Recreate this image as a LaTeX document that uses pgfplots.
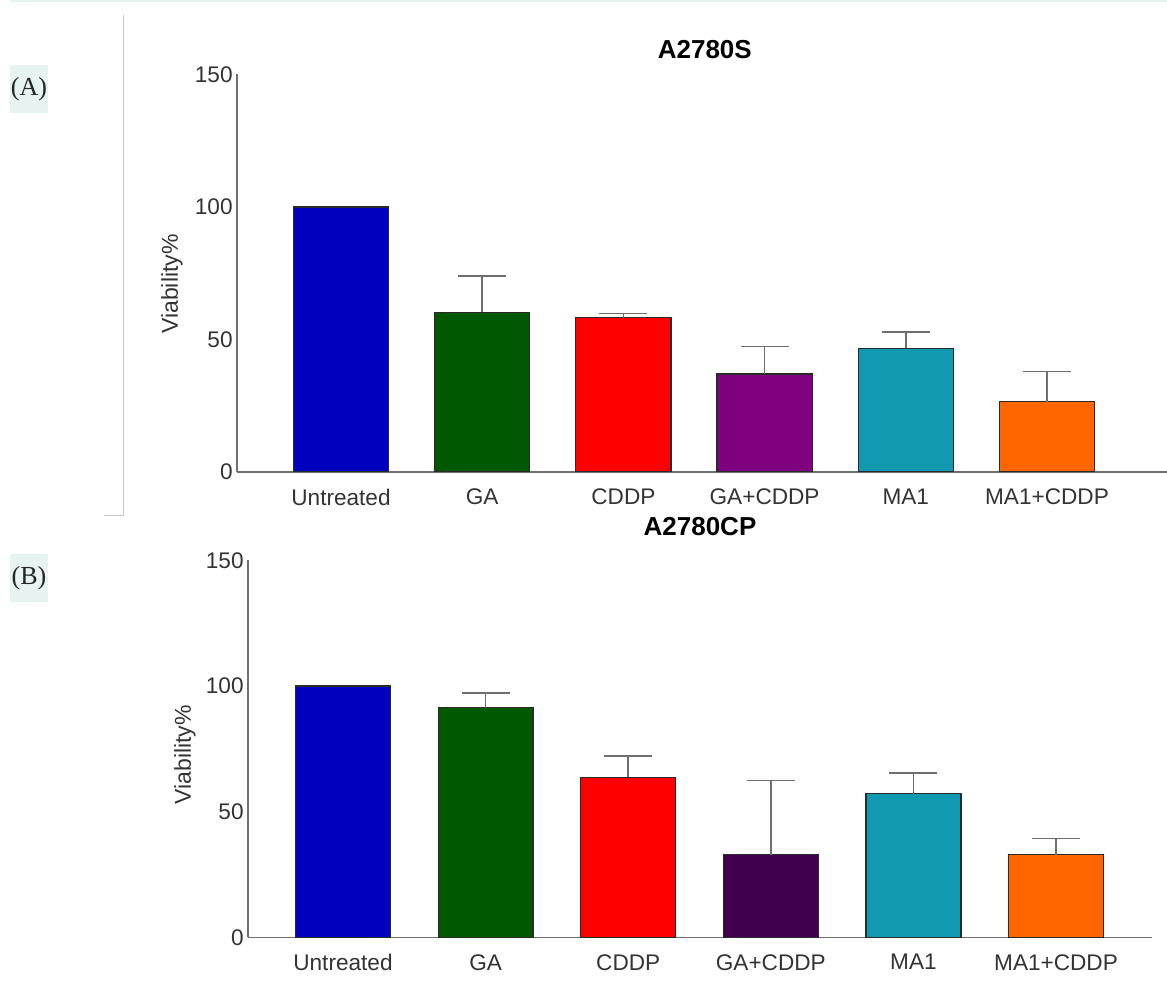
\documentclass[border=0pt]{standalone}
\usepackage{pgfplots}
\pgfplotsset{compat=1.18}
\usepackage{fontspec}
\setmainfont{Liberation Sans}
\newfontfamily\seriffont{Liberation Serif}
\definecolor{axgray}{HTML}{707070}
\definecolor{errgray}{HTML}{6E6E6E}
\definecolor{labgray}{HTML}{333333}
\definecolor{bardraw}{HTML}{2A2A2A}
\definecolor{cU}{HTML}{0000BE}
\definecolor{cGA}{HTML}{005800}
\definecolor{cCD}{HTML}{FF0000}
\definecolor{cGAC}{HTML}{7F007F}
\definecolor{cGACb}{HTML}{40004D}
\definecolor{cMA}{HTML}{1299B2}
\definecolor{cMAC}{HTML}{FF6600}
\definecolor{bandcol}{HTML}{E6F3F1}
\definecolor{boxcol}{HTML}{E6F3F1}
\definecolor{linecol}{HTML}{C8C8C8}
\pgfplotsset{
  via/.style={
    scale only axis,
    ybar,
    axis x line=bottom, axis y line=left,
    axis line style={-, draw=axgray, line width=0.75pt},
    major tick length=0pt,
    ymin=0, ymax=150, ytick={0,50,100,150},
    xtick={0,1,2,3,4,5},
    xticklabels={Untreated,GA,CDDP,GA+CDDP,MA1,MA1+CDDP},
    /pgf/number format/assume math mode=true,
    ticklabel style={font=\fontsize{11.3}{13}\selectfont, text=labgray},
    yticklabel style={inner xsep=2pt},
    xticklabel style={yshift=-5pt},
    ylabel={Viability\%},
    title style={font=\bfseries\fontsize{13}{15}\selectfont},
    every axis plot/.append style={draw=bardraw, line width=0.6pt},
    error bars/y dir=plus, error bars/y explicit,
    error bars/error bar style={draw=errgray, line width=0.75pt},
    error bars/error mark options={rotate=90, draw=errgray, line width=0.75pt, mark size=12pt},
  }
}
\begin{document}
\begin{tikzpicture}
\useasboundingbox (0,0) rectangle (583.5pt,497pt);
\fill[bandcol] (5pt,496.1pt) rectangle (583.5pt,497pt);
\draw[linecol, line width=0.5pt] (61.5pt,489.5pt) -- (61.5pt,239pt) -- (52pt,239pt);
\node[fill=boxcol, minimum width=19pt, minimum height=24pt, inner sep=0pt,
      font=\seriffont\fontsize{13}{15}\selectfont, text=black!85] at (14.5pt,452.5pt) {(A)};
\node[fill=boxcol, minimum width=19pt, minimum height=24pt, inner sep=0pt,
      font=\seriffont\fontsize{13}{15}\selectfont, text=black!85] at (14.5pt,208pt) {(B)};

\begin{axis}[via,
  at={(118.5pt,261pt)}, anchor=south west,
  width=465pt, height=198.75pt,
  xmin=-0.7365, xmax=5.85, bar width=0.673,
  title={A2780S}, title style={at={(axis description cs:0.503,1.032)}, anchor=center},
  ylabel style={at={(axis description cs:-0.0699,0.473)}, anchor=center,
                font=\fontsize{11.5}{13}\selectfont, text=labgray},
]
\addplot[fill=cU, bar shift=0pt] coordinates {(0,100)};
\addplot[fill=cGA, bar shift=0pt] coordinates {(1,60.3) +- (0,13.7)};
\addplot[fill=cCD, bar shift=0pt] coordinates {(2,58.2) +- (0,1.7)};
\addplot[fill=cGAC, bar shift=0pt] coordinates {(3,37.0) +- (0,10.3)};
\addplot[fill=cMA, bar shift=0pt] coordinates {(4,46.6) +- (0,6.3)};
\addplot[fill=cMAC, bar shift=0pt] coordinates {(5,26.5) +- (0,11.5)};
\end{axis}

\begin{axis}[via,
  at={(124pt,28.35pt)}, anchor=south west,
  width=452pt, height=188.5pt,
  xmin=-0.666, xmax=5.673, bar width=0.666,
  title={A2780CP}, title style={at={(axis description cs:0.5,1.058)}, anchor=center},
  ylabel style={at={(axis description cs:-0.0697,0.484)}, anchor=center,
                font=\fontsize{11.5}{13}\selectfont, text=labgray},
]
\addplot[fill=cU, bar shift=0pt] coordinates {(0,100)};
\addplot[fill=cGA, bar shift=0pt] coordinates {(1,91.3) +- (0,5.9)};
\addplot[fill=cCD, bar shift=0pt] coordinates {(2,63.7) +- (0,8.5)};
\addplot[fill=cGACb, bar shift=0pt] coordinates {(3,32.8) +- (0,29.5)};
\addplot[fill=cMA, bar shift=0pt] coordinates {(4,57.1) +- (0,8.2)};
\addplot[fill=cMAC, bar shift=0pt] coordinates {(5,32.8) +- (0,6.6)};
\end{axis}
\end{tikzpicture}
\end{document}
